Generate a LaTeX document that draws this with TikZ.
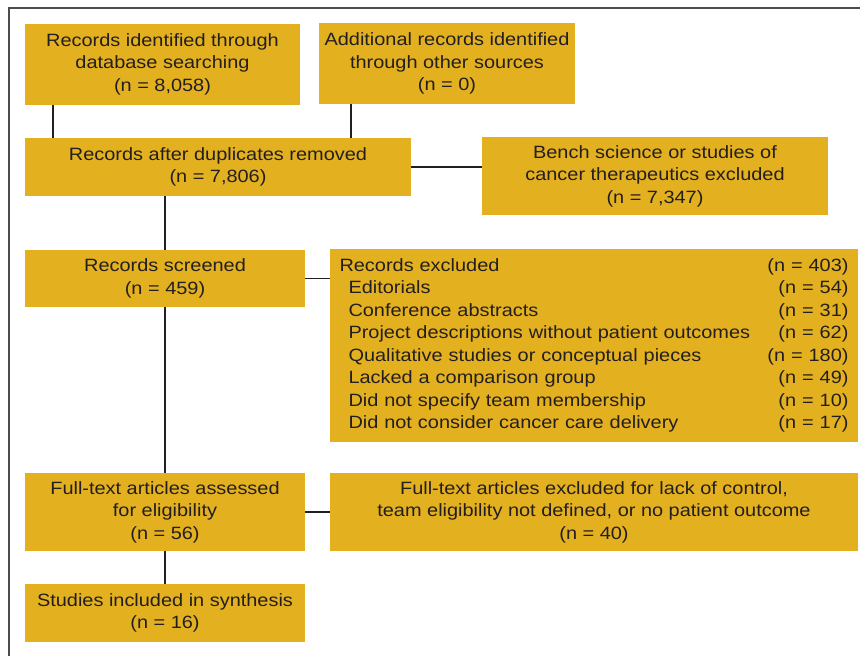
\documentclass[tikz,border=0pt]{standalone}
\usepackage{fontspec}
\setmainfont{Liberation Sans}[FakeStretch=1.12]
\definecolor{gold}{RGB}{227,176,32}
\definecolor{txt}{RGB}{35,31,32}
\begin{document}
\begin{tikzpicture}[x=1pt,y=-1pt,
  box/.style={fill=gold, draw=none, text=txt, align=center, inner sep=0pt,
    font=\fontsize{17.8}{22.5}\selectfont},
  conn/.style={draw=txt, line width=1.8pt},
  frame/.style={draw=black!70, line width=1.2pt}]
\useasboundingbox (0,0) rectangle (860,656);
\draw[frame] (9,656) -- (9,8) -- (860,8);
\node[box, minimum width=275, minimum height=81] (b1) at (162.5,64) {Records identified through\\database searching\\(n = 8,058)};
\node[box, minimum width=256, minimum height=81] (b2) at (447,63.5) {Additional records identified\\through other sources\\(n = 0)};
\node[box, minimum width=386, minimum height=58] (b3) at (218,167) {Records after duplicates removed\\(n = 7,806)};
\node[box, minimum width=346, minimum height=78] (b4) at (655,176) {Bench science or studies of\\cancer therapeutics excluded\\(n = 7,347)};
\node[box, minimum width=280, minimum height=57] (b5) at (165,278.5) {Records screened\\(n = 459)};
\node[box, minimum width=528, minimum height=193, align=left, text width=509] (b6) at (594,345.5) {%
Records excluded\hfill(n = 403)\\
\hspace*{9pt}Editorials\hfill(n = 54)\\
\hspace*{9pt}Conference abstracts\hfill(n = 31)\\
\hspace*{9pt}Project descriptions without patient outcomes\hfill(n = 62)\\
\hspace*{9pt}Qualitative studies or conceptual pieces\hfill(n = 180)\\
\hspace*{9pt}Lacked a comparison group\hfill(n = 49)\\
\hspace*{9pt}Did not specify team membership\hfill(n = 10)\\
\hspace*{9pt}Did not consider cancer care delivery\hfill(n = 17)};
\node[box, minimum width=280, minimum height=78] (b7) at (165,512) {Full-text articles assessed\\for eligibility\\(n = 56)};
\node[box, minimum width=528, minimum height=78] (b8) at (594,512) {Full-text articles excluded for lack of control,\\team eligibility not defined, or no patient outcome\\(n = 40)};
\node[box, minimum width=280, minimum height=58] (b9) at (165,613) {Studies included in synthesis\\(n = 16)};
\draw[conn] (b1.south -| 53,0) -- (b3.north -| 53,0);
\draw[conn] (b2.south -| 351,0) -- (b3.north -| 351,0);
\draw[conn] (b3.east) -- (b4.west |- b3.east);
\draw[conn] (b3.south -| 165,0) -- (b5.north);
\draw[conn] (b5.east) -- (b6.west |- b5.east);
\draw[conn] (b5.south) -- (b7.north);
\draw[conn] (b7.east) -- (b8.west);
\draw[conn] (b7.south) -- (b9.north);
\end{tikzpicture}
\end{document}
